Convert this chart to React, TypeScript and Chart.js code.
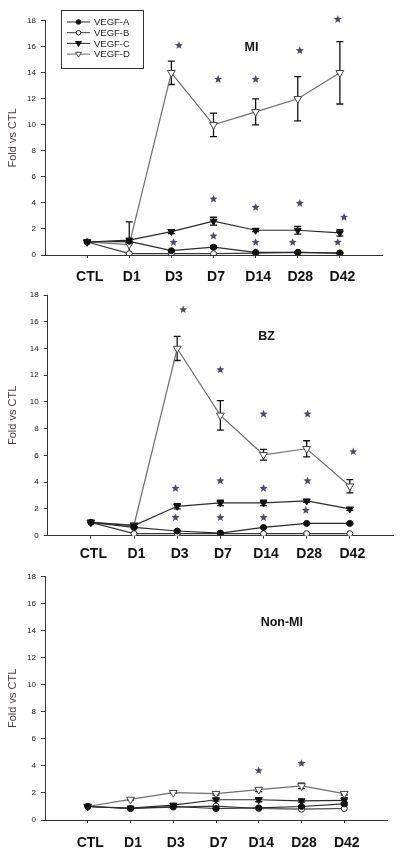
import React, { useEffect, useRef } from 'react';
import { Chart, registerables } from 'chart.js';

Chart.register(...registerables);

// ---------- data ----------
const categories = ['CTL', 'D1', 'D3', 'D7', 'D14', 'D28', 'D42'];
const seriesNames = ['VEGF-A', 'VEGF-B', 'VEGF-C', 'VEGF-D'];
const yMax = 18;
const yStep = 2;
const yTitle = 'Fold vs CTL';

// MI
const miA = [1.0, 1.05, 0.33, 0.6, 0.2, 0.2, 0.15];
const miB = [1.0, 0.1, 0.1, 0.1, 0.15, 0.2, 0.15];
const miC = [1.0, 1.15, 1.8, 2.6, 1.9, 1.9, 1.7];
const miD = [1.0, 0.8, 14.0, 10.0, 11.0, 12.0, 14.0];
const miAErr = [0, 0, 0.05, 0.1, 0.05, 0.05, 0.05];
const miBErr = [0, 0, 0, 0, 0, 0, 0];
const miCErr = [0, 1.4, 0.15, 0.3, 0.1, 0.3, 0.25];
const miDErr = [0, 0, 0.9, 0.9, 1.0, 1.7, 2.4];
// stars: [category index (fractional), y value]
const miStars = [
  [2.18, 16.1], [2.05, 0.97],
  [3.11, 13.5], [3.0, 4.3], [3.0, 1.46],
  [4.0, 13.5], [4.0, 3.66], [4.0, 0.97],
  [5.05, 15.7], [5.05, 3.97], [4.88, 0.97],
  [5.95, 18.1], [6.1, 2.9], [5.95, 0.97],
];

// BZ
const bzA = [1.0, 0.62, 0.35, 0.2, 0.62, 0.92, 0.92];
const bzB = [1.0, 0.15, 0.15, 0.15, 0.15, 0.15, 0.15];
const bzC = [1.0, 0.75, 2.2, 2.45, 2.45, 2.6, 2.0];
const bzD = [1.0, 0.8, 14.0, 9.0, 6.05, 6.5, 3.7];
const bzAErr = [0, 0.05, 0.05, 0.05, 0.05, 0.05, 0.05];
const bzBErr = [0, 0, 0, 0, 0, 0, 0];
const bzCErr = [0, 0.1, 0.2, 0.2, 0.2, 0.1, 0.1];
const bzDErr = [0, 0.1, 0.9, 1.1, 0.4, 0.6, 0.5];
const bzStars = [
  [2.14, 16.9], [1.96, 3.54], [1.96, 1.35],
  [3.0, 12.4], [3.0, 4.1], [3.0, 1.35],
  [4.0, 9.1], [4.0, 3.54], [4.0, 1.35],
  [5.02, 9.1], [5.02, 4.1], [4.98, 1.9],
  [6.08, 6.28],
];

// Non-MI
const nmA = [1.0, 0.85, 1.0, 0.85, 0.9, 1.0, 1.2];
const nmB = [1.0, 0.85, 0.95, 1.03, 0.85, 0.8, 0.85];
const nmC = [1.0, 0.88, 1.1, 1.5, 1.5, 1.42, 1.45];
const nmD = [1.0, 1.52, 2.02, 1.95, 2.25, 2.52, 1.95];
const nmAErr = [0, 0.05, 0.05, 0.05, 0.05, 0.05, 0.1];
const nmBErr = [0, 0, 0, 0, 0, 0, 0];
const nmCErr = [0, 0.05, 0.1, 0.1, 0.15, 0.1, 0.2];
const nmDErr = [0, 0.05, 0.05, 0.1, 0.15, 0.2, 0.1];
const nmStars = [[4.0, 3.65], [5.0, 4.19]];

// ---------- styles ----------
const seriesStyles = [
  { line: '#2a2a2a', fill: '#111', stroke: '#111', shape: 'circle', r: 3 },
  { line: '#3a3a3a', fill: '#fff', stroke: '#222', shape: 'circle', r: 3 },
  { line: '#2a2a2a', fill: '#111', stroke: '#111', shape: 'triangle', r: 4 },
  { line: '#6e6e6e', fill: '#fff', stroke: '#444', shape: 'triangle', r: 4.5 },
];

type Panel = {
  title: string;
  titleAt: number[]; // data units
  values: number[][];
  errors: number[][];
  stars: number[][];
  legend: boolean;
  top: number;
  height: number;
  plotTop: number;
  plotBottom: number;
  plotLeft: number;
  plotRight: number;
  labelPad: number;
};

const panels: Panel[] = [
  {
    title: 'MI', titleAt: [4.9, 15.9],
    values: [miA, miB, miC, miD], errors: [miAErr, miBErr, miCErr, miDErr], stars: miStars,
    legend: true, top: 0, height: 290, plotTop: 20.7, plotBottom: 255, plotLeft: 45, plotRight: 382, labelPad: 11,
  },
  {
    title: 'BZ', titleAt: [5.07, 14.9],
    values: [bzA, bzB, bzC, bzD], errors: [bzAErr, bzBErr, bzCErr, bzDErr], stars: bzStars,
    legend: false, top: 282, height: 285, plotTop: 13, plotBottom: 253.7, plotLeft: 47.7, plotRight: 393, labelPad: 7,
  },
  {
    title: 'Non-MI', titleAt: [5.54, 14.6],
    values: [nmA, nmB, nmC, nmD], errors: [nmAErr, nmBErr, nmCErr, nmDErr], stars: nmStars,
    legend: false, top: 565, height: 289, plotTop: 11.7, plotBottom: 255, plotLeft: 45, plotRight: 387, labelPad: 12,
  },
];

function drawMarker(ctx: CanvasRenderingContext2D, shape: string, x: number, y: number, r: number, fill: string, stroke: string) {
  ctx.beginPath();
  if (shape === 'circle') {
    ctx.arc(x, y, r, 0, Math.PI * 2);
  } else {
    ctx.moveTo(x - r, y - r * 0.6);
    ctx.lineTo(x + r, y - r * 0.6);
    ctx.lineTo(x, y + r);
    ctx.closePath();
  }
  ctx.fillStyle = fill;
  ctx.fill();
  ctx.lineWidth = 1;
  ctx.strokeStyle = stroke;
  ctx.stroke();
}

function drawStar(ctx: CanvasRenderingContext2D, x: number, y: number, R: number) {
  const r = R * 0.45;
  ctx.beginPath();
  for (let i = 0; i < 10; i++) {
    const a = -Math.PI / 2 + (i * Math.PI) / 5;
    const rr = i % 2 === 0 ? R : r;
    const px = x + rr * Math.cos(a);
    const py = y + rr * Math.sin(a);
    if (i === 0) ctx.moveTo(px, py);
    else ctx.lineTo(px, py);
  }
  ctx.closePath();
  ctx.fill();
}

function makeOverlay(panel: Panel) {
  return {
    id: 'overlay',
    beforeDatasetsDraw(chart: any) {
      const { ctx, chartArea } = chart;
      const xs = chart.scales.x;
      const ys = chart.scales.y;
      ctx.save();
      ctx.beginPath();
      ctx.rect(chartArea.left, chartArea.top - 30, chartArea.right - chartArea.left, chartArea.bottom - chartArea.top + 30);
      ctx.clip();
      ctx.strokeStyle = '#111';
      ctx.lineWidth = 1.3;
      panel.values.forEach((vals, i) => {
        const errs = panel.errors[i];
        vals.forEach((v, j) => {
          const e = errs[j];
          if (!e) return;
          const x = xs.getPixelForValue(j + 1);
          const y1 = ys.getPixelForValue(v + e);
          const y2 = ys.getPixelForValue(v - e);
          ctx.beginPath();
          ctx.moveTo(x, y1); ctx.lineTo(x, y2);
          ctx.moveTo(x - 3.5, y1); ctx.lineTo(x + 3.5, y1);
          ctx.moveTo(x - 3.5, y2); ctx.lineTo(x + 3.5, y2);
          ctx.stroke();
        });
      });
      ctx.restore();
    },
    afterDraw(chart: any) {
      const { ctx } = chart;
      const xs = chart.scales.x;
      const ys = chart.scales.y;
      ctx.save();
      // stars
      ctx.fillStyle = '#4b4b68';
      panel.stars.forEach(([cx, cy]) => {
        drawStar(ctx, xs.getPixelForValue(cx + 1), ys.getPixelForValue(cy), 4.2);
      });
      // panel title
      ctx.fillStyle = '#111';
      ctx.font = 'bold 12.5px Arial, "Liberation Sans", sans-serif';
      ctx.textAlign = 'center';
      ctx.textBaseline = 'middle';
      ctx.fillText(panel.title, xs.getPixelForValue(panel.titleAt[0]), ys.getPixelForValue(panel.titleAt[1]));
      // legend
      if (panel.legend) {
        const bx = 61, by = 10, bw = 82, bh = 58;
        ctx.strokeStyle = '#333';
        ctx.lineWidth = 1;
        ctx.strokeRect(bx + 0.5, by + 0.5, bw, bh);
        ctx.font = '9.5px Arial, "Liberation Sans", sans-serif';
        ctx.textAlign = 'left';
        ctx.textBaseline = 'middle';
        seriesNames.forEach((name, i) => {
          const st = seriesStyles[i];
          const y = 22 + i * 10.7;
          ctx.strokeStyle = st.line;
          ctx.lineWidth = 1;
          ctx.beginPath();
          ctx.moveTo(67, y);
          ctx.lineTo(90, y);
          ctx.stroke();
          drawMarker(ctx, st.shape, 78.5, y, st.shape === 'circle' ? 2.3 : 3, st.fill, st.stroke);
          ctx.fillStyle = '#222';
          ctx.fillText(name, 94, y + 0.5);
        });
      }
      ctx.restore();
    },
  };
}

function PanelChart({ panel }: { panel: Panel }) {
  const ref = useRef<HTMLCanvasElement>(null);
  useEffect(() => {
    if (!ref.current) return;
    const datasets = panel.values.map((vals, i) => {
      const st = seriesStyles[i];
      return {
        label: seriesNames[i],
        data: vals.map((v, j) => ({ x: j + 1, y: v })),
        borderColor: st.line,
        borderWidth: 1.2,
        pointStyle: st.shape,
        pointRotation: st.shape === 'triangle' ? 180 : 0,
        pointRadius: st.r,
        pointBackgroundColor: st.fill,
        pointBorderColor: st.stroke,
        pointBorderWidth: 1,
        tension: 0,
        fill: false,
      };
    });
    const chart = new Chart(ref.current, {
      type: 'line',
      data: { datasets },
      plugins: [makeOverlay(panel)],
      options: {
        animation: false,
        responsive: false,
        devicePixelRatio: 1,
        layout: { padding: { top: panel.plotTop, right: 400 - panel.plotRight, left: 0, bottom: 0 } },
        plugins: { legend: { display: false }, tooltip: { enabled: false } },
        scales: {
          x: {
            type: 'linear',
            min: 0,
            max: categories.length + 1,
            afterFit: (s: any) => { s.height = panel.height - panel.plotBottom; },
            ticks: {
              stepSize: 1,
              autoSkip: false,
              maxRotation: 0,
              padding: panel.labelPad,
              labelOffset: 2.5,
              color: '#111',
              font: { family: 'Arial, "Liberation Sans", sans-serif', size: 14, weight: 'bold' },
              callback: (v: any) => categories[Number(v) - 1] ?? '',
            },
            grid: {
              drawOnChartArea: false,
              drawTicks: true,
              tickLength: 3,
              tickColor: (c: any) => (c.tick && c.tick.value >= 1 && c.tick.value <= categories.length ? '#333' : 'rgba(0,0,0,0)'),
            },
            border: { display: true, color: '#333', width: 1 },
          },
          y: {
            type: 'linear',
            min: 0,
            max: yMax,
            afterFit: (s: any) => { s.width = panel.plotLeft; },
            ticks: {
              stepSize: yStep,
              padding: 5,
              color: '#222',
              font: { family: 'Arial, "Liberation Sans", sans-serif', size: 8 },
            },
            grid: { drawOnChartArea: false, drawTicks: true, tickLength: 4, tickColor: '#333' },
            border: { display: true, color: '#333', width: 1 },
            title: {
              display: true,
              text: yTitle,
              color: '#4a3b3b',
              padding: { top: 6, bottom: 0 },
              font: { family: 'Arial, "Liberation Sans", sans-serif', size: 11 },
            },
          },
        },
      } as any,
    });
    return () => chart.destroy();
  }, [panel]);
  return (
    <canvas
      ref={ref}
      width={400}
      height={panel.height}
      style={{ position: 'absolute', left: 0, top: panel.top, width: 400, height: panel.height }}
    />
  );
}

export default function App() {
  return (
    <div style={{ position: 'absolute', left: 0, top: 0, width: 400, height: 854, background: '#fff' }}>
      {panels.map((p) => (
        <PanelChart key={p.title} panel={p} />
      ))}
    </div>
  );
}
